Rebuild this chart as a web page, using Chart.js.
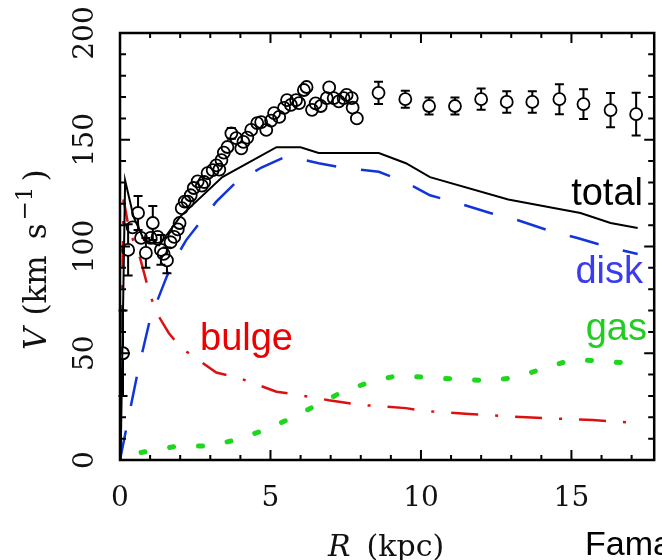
<!DOCTYPE html>
<html>
<head>
<meta charset="utf-8">
<title>Rotation curve</title>
<script src="https://cdn.jsdelivr.net/npm/chart.js@4.4.1/dist/chart.umd.min.js"></script>
<style>
  html, body { margin: 0; padding: 0; background: #fff; }
  canvas { display: block; }
</style>
</head>
<body>
<canvas id="rc" width="662" height="560"></canvas>
<script>
// observed rotation velocities: radius (kpc), velocity (km/s), error (0 = no bar drawn)
var obsR = [0.10, 0.27, 0.42, 0.60, 0.70, 0.86, 1.02, 1.09, 1.25, 1.36, 1.45, 1.56, 1.68, 1.80, 1.92,
            1.98, 2.05, 2.15, 2.25, 2.35, 2.45, 2.58, 2.72, 2.80, 2.91, 3.08, 3.20, 3.30, 3.37, 3.45,
            3.57, 3.70, 3.86, 4.03, 4.10, 4.23, 4.36, 4.56, 4.69, 4.86, 5.02, 5.12, 5.29, 5.45, 5.55,
            5.68, 5.85, 5.95, 6.11, 6.20, 6.38, 6.50, 6.67, 6.87, 6.95, 7.10, 7.27, 7.43, 7.53, 7.70,
            7.73, 7.87,
            8.59, 9.48, 10.27, 11.13, 12.00, 12.85, 13.70, 14.60, 15.40, 16.30, 17.15];
var obsV = [50, 98.4, 109, 115.7, 104, 97, 104, 111, 104.5, 98.4, 96.5, 93.5, 102, 104.5, 108,
            111, 118, 121, 121, 124, 127.4, 130.5, 128.5, 130.2, 134.4, 135.8, 138, 136, 140.5, 144,
            146.6, 153, 150.8, 146, 149, 151, 154.6, 157.8, 158.3, 154.6, 159, 162.5, 160.7, 164.9, 168.6,
            166.3, 168.6, 167.2, 173.3, 174.7, 164, 167, 165.8, 169.5, 174.5, 169.5, 168, 169.5, 171, 169.5,
            165, 160,
            172, 169, 165.8, 165.8, 169, 167.7, 167.7, 169, 166.7, 163.9, 162];
var obsErr = [20, 12, 0, 8, 0, 7, 0, 8, 0, 7, 0, 6, 0, 0, 0,
              0, 0, 0, 0, 0, 0, 0, 0, 0, 0, 0, 0, 0, 0, 0,
              0, 2.5, 0, 0, 0, 0, 0, 0, 0, 0, 0, 0, 0, 0, 0,
              0, 0, 0, 0, 0, 0, 0, 0, 0, 0, 0, 0, 0, 0, 0,
              0, 0,
              5.2, 4, 4, 4, 5, 5, 5, 7, 7, 8, 10];

// mass model components
var totalR = [0.02, 0.17, 0.45, 0.8, 1.3, 2.0, 3.4, 5.2, 6.0, 6.6, 8.6, 9.5, 10.3, 12.9, 15.3, 16.3, 17.2];
var totalV = [0, 131, 114, 103, 100.5, 114, 132.5, 146.5, 146.5, 143.8, 143.8, 139, 132.5, 122, 115.7, 111, 108.7];

var diskR = [0, 0.2, 0.6, 1.0, 1.5, 1.7, 2.2, 3.2, 3.85, 4.7, 5.5, 6.0, 6.6, 7.5, 8.6, 9.5, 10.3, 11.3, 12.3, 13.2, 14.2, 15.2, 16.2, 17.2];
var diskV = [0, 14, 42, 66, 84, 91, 103, 121, 130, 137, 142, 141, 139, 136.7, 135, 130, 124, 120, 115.7, 112.4, 107.7, 104, 99.8, 96.5];

var bulgeR = [0, 0.12, 0.3, 0.66, 0.83, 1.0, 1.32, 1.62, 2.0, 2.58, 3.2, 3.96, 5.2, 5.95, 6.94, 8.0, 9.5, 10.1, 11.6, 13.5, 15.7, 17.2];
var bulgeV = [0, 122, 108, 95, 86, 77, 66.5, 59.5, 53, 47, 41, 38.4, 32, 30.4, 28, 25.8, 24.3, 23, 21.5, 20, 18.7, 17.3];

var gasR = [0.7, 1.9, 2.9, 3.85, 4.8, 5.7, 6.55, 7.4, 8.3, 9.3, 10.3, 11.3, 12.3, 13.2, 14.1, 15.1, 16.1, 17.1];
var gasV = [3.5, 6.5, 6.5, 9.4, 14, 19.7, 25.8, 32, 36.5, 39.8, 38.4, 37.9, 37, 38.9, 43, 47.3, 46, 45.4];

var xTicks = [0, 5, 10, 15];
var yTicks = [0, 50, 100, 150, 200];

var SERIF = '"DejaVu Serif", "Liberation Serif", serif';
var SANS = '"Liberation Sans", Arial, sans-serif';

function pts(rs, vs) {
  return rs.map(function (r, i) { return { x: r, y: vs[i] }; });
}

function curve(data, color, width, dash, cap) {
  return {
    data: data,
    showLine: true,
    borderColor: color,
    borderWidth: width,
    borderDash: dash,
    borderCapStyle: cap || 'butt',
    pointRadius: 0,
    tension: 0,
    fill: false
  };
}

// vertical error bars with caps, stopped at the circle edge
var errorBars = {
  id: 'errorBars',
  afterDatasetsDraw: function (chart) {
    var ctx = chart.ctx, x = chart.scales.x, y = chart.scales.y;
    var r = 6, cap = 4.5;
    ctx.save();
    ctx.strokeStyle = '#000';
    ctx.lineWidth = 2;
    obsR.forEach(function (rr, i) {
      var e = obsErr[i];
      if (!e) return;
      var px = x.getPixelForValue(rr);
      var py = y.getPixelForValue(obsV[i]);
      var top = y.getPixelForValue(obsV[i] + e);
      var bot = y.getPixelForValue(obsV[i] - e);
      ctx.beginPath();
      if (py - r > top) { ctx.moveTo(px, py - r); ctx.lineTo(px, top); }
      if (py + r < bot) { ctx.moveTo(px, py + r); ctx.lineTo(px, bot); }
      ctx.moveTo(px - cap, top); ctx.lineTo(px + cap, top);
      ctx.moveTo(px - cap, bot); ctx.lineTo(px + cap, bot);
      ctx.stroke();
    });
    ctx.restore();
  }
};

// draws a sequence of text pieces along the current baseline
function runs(ctx, items, x, y) {
  items.forEach(function (it) {
    ctx.font = it.font;
    ctx.fillText(it.text, x, y + (it.dy || 0));
    x += ctx.measureText(it.text).width + (it.gap || 0);
  });
}

// box, inward ticks on all four sides, rotated y labels, titles and curve names
var frame = {
  id: 'frame',
  afterDraw: function (chart) {
    var ctx = chart.ctx, a = chart.chartArea, x = chart.scales.x, y = chart.scales.y;
    ctx.save();
    ctx.strokeStyle = '#000';
    ctx.lineWidth = 2.5;
    ctx.strokeRect(a.left, a.top, a.right - a.left, a.bottom - a.top);

    ctx.lineWidth = 2;
    ctx.beginPath();
    for (var k = 0; k <= 17; k++) {
      var px = x.getPixelForValue(k), len = k % 5 === 0 ? 10 : 5;
      ctx.moveTo(px, a.bottom); ctx.lineTo(px, a.bottom - len);
      ctx.moveTo(px, a.top); ctx.lineTo(px, a.top + len);
    }
    for (var v = 0; v <= 200; v += 10) {
      var py = y.getPixelForValue(v), l2 = v % 50 === 0 ? 10 : 6;
      ctx.moveTo(a.left, py); ctx.lineTo(a.left + l2, py);
      ctx.moveTo(a.right, py); ctx.lineTo(a.right - l2, py);
    }
    ctx.stroke();

    // y tick labels, turned to read upwards
    ctx.fillStyle = '#111';
    ctx.font = '28px ' + SERIF;
    ctx.textAlign = 'center';
    ctx.textBaseline = 'middle';
    y.ticks.forEach(function (t) {
      ctx.save();
      ctx.translate(86, y.getPixelForValue(t.value));
      ctx.rotate(-Math.PI / 2);
      ctx.fillText(String(t.value), 0, 0);
      ctx.restore();
    });

    // y axis title
    ctx.save();
    ctx.translate(46, 350);
    ctx.rotate(-Math.PI / 2);
    ctx.textAlign = 'left';
    ctx.textBaseline = 'alphabetic';
    runs(ctx, [
      { text: 'V', font: 'italic 31px ' + SERIF, gap: 12 },
      { text: '(km', font: '31px ' + SERIF, gap: 16 },
      { text: 's', font: '31px ' + SERIF, gap: 3 },
      { text: '\u22121', font: '23px ' + SERIF, dy: -14, gap: 5 },
      { text: ')', font: '31px ' + SERIF }
    ], 0, 0);
    ctx.restore();

    // x axis title
    ctx.textAlign = 'left';
    ctx.textBaseline = 'alphabetic';
    runs(ctx, [
      { text: 'R', font: 'italic 30px ' + SERIF, gap: 16 },
      { text: '(kpc)', font: '30px ' + SERIF }
    ], 328, 556);

    ctx.fillStyle = '#000';
    ctx.font = '34px ' + SANS;
    ctx.fillText('Famaey', 585, 555);

    // curve names
    ctx.font = '38px ' + SANS;
    ctx.textAlign = 'right';
    ctx.fillStyle = '#000';
    ctx.fillText('total', 643, 205);
    ctx.fillStyle = '#3a3af2';
    ctx.fillText('disk', 643, 283);
    ctx.fillStyle = '#22cc22';
    ctx.fillText('gas', 647, 340);
    ctx.textAlign = 'left';
    ctx.fillStyle = '#ee0000';
    ctx.fillText('bulge', 200, 350);
    ctx.restore();
  }
};

new Chart(document.getElementById('rc'), {
  type: 'scatter',
  data: {
    datasets: [
      {
        data: pts(obsR, obsV),
        pointRadius: 6,
        pointHoverRadius: 6,
        pointBorderWidth: 1.8,
        pointBorderColor: '#000',
        pointBackgroundColor: 'rgba(0,0,0,0)'
      },
      curve(pts(totalR, totalV), '#000000', 2, []),
      curve(pts(diskR, diskV), '#1035d8', 2.5, [30, 25]),
      curve(pts(bulgeR, bulgeV), '#dd1010', 2.5, [27, 17, 3, 17]),
      curve(pts(gasR, gasV), '#1fd61f', 5, [4, 25], 'round')
    ]
  },
  options: {
    responsive: false,
    animation: false,
    events: [],
    layout: { padding: { top: 33, right: 5, left: 0, bottom: 0 } },
    plugins: { legend: { display: false }, tooltip: { enabled: false } },
    scales: {
      x: {
        type: 'linear',
        min: 0,
        max: 17.75,
        afterBuildTicks: function (s) { s.ticks = xTicks.map(function (v) { return { value: v }; }); },
        afterFit: function (s) { s.height = 100; },
        grid: { display: false, drawTicks: false },
        border: { display: false },
        ticks: { color: '#111', font: { family: SERIF, size: 28 }, padding: 22, maxRotation: 0 }
      },
      y: {
        type: 'linear',
        min: 0,
        max: 200,
        afterBuildTicks: function (s) { s.ticks = yTicks.map(function (v) { return { value: v }; }); },
        afterFit: function (s) { s.width = 120; },
        grid: { display: false, drawTicks: false },
        border: { display: false },
        ticks: { display: false }
      }
    }
  },
  plugins: [errorBars, frame]
});
</script>
</body>
</html>
